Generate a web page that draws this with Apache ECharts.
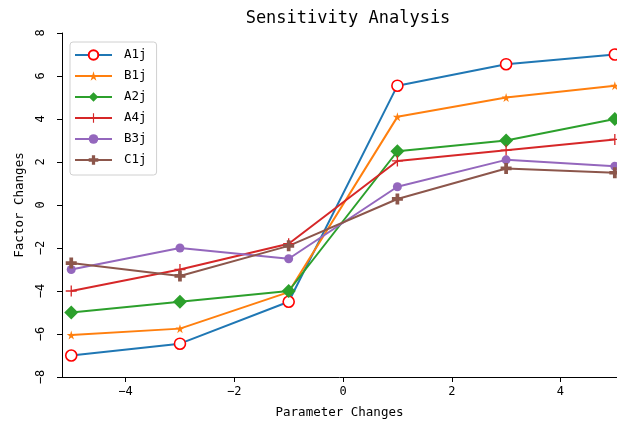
<!DOCTYPE html>
<html>
<head>
<meta charset="utf-8">
<script src="https://cdn.jsdelivr.net/npm/echarts@6/dist/echarts.min.js"></script>
<style>
html,body{margin:0;padding:0;background:#fff;}
#chart{width:617px;height:425px;}
</style>
</head>
<body>
<div id="chart"></div>
<script>
var xValues = [-5, -3, -1, 1, 3, 5];
var seriesNames = ['A1j', 'B1j', 'A2j', 'A4j', 'B3j', 'C1j'];
var A1j = [-7, -6.45, -4.5, 5.55, 6.55, 7];
var B1j = [-6.05, -5.75, -4.05, 4.1, 5.0, 5.55];
var A2j = [-5, -4.5, -4, 2.5, 3, 4];
var A4j = [-4, -3, -1.8, 2.05, 2.55, 3.05];
var B3j = [-3, -2, -2.5, 0.85, 2.1, 1.8];
var C1j = [-2.7, -3.3, -1.9, 0.28, 1.7, 1.5];
var xTicks = [-4, -2, 0, 2, 4];
var yTicks = [-8, -6, -4, -2, 0, 2, 4, 6, 8];

var FONT = 'DejaVu Sans Mono';
var STAR = 'path://M50,0 L61,35 L98,35 L68,57 L79,91 L50,70 L21,91 L32,57 L2,35 L39,35 Z';
var PLUSP = 'path://M33,0 H67 V33 H100 V67 H67 V100 H33 V67 H0 V33 H33 Z';
var PLUS = 'path://M44,0 H56 V44 H100 V56 H56 V100 H44 V56 H0 V44 H44 Z';

function pairs(vals){ return xValues.map(function(x,i){ return [x, vals[i]]; }); }
function fmt(v){ return String(v).replace('-', '\u2212'); }

var styles = [
  {data: A1j, color: '#1f77b4', symbol: 'circle', size: 11, item: {color: '#ffffff', borderColor: '#ff0000', borderWidth: 1.6}},
  {data: B1j, color: '#ff7f0e', symbol: STAR, size: 9, item: {color: '#ff7f0e'}},
  {data: A2j, color: '#2ca02c', symbol: 'diamond', size: 14, item: {color: '#2ca02c'}},
  {data: A4j, color: '#d62728', symbol: PLUS, size: 11, item: {color: '#d62728'}},
  {data: B3j, color: '#9467bd', symbol: 'circle', size: 9, item: {color: '#9467bd'}},
  {data: C1j, color: '#8c564b', symbol: PLUSP, size: 11, item: {color: '#8c564b'}}
];

var series = styles.map(function(s, i){
  return {
    name: seriesNames[i],
    type: 'line',
    data: pairs(s.data),
    symbol: s.symbol,
    symbolSize: s.size,
    showAllSymbol: true,
    lineStyle: {color: s.color, width: 2},
    itemStyle: s.item,
    emphasis: {disabled: true},
    animation: false
  };
});

var chart = echarts.init(document.getElementById('chart'), null, {renderer: 'canvas'});
chart.setOption({
  backgroundColor: '#ffffff',
  animation: false,
  title: {
    text: 'Sensitivity Analysis',
    left: 343, top: 5, textAlign: 'center',
    textStyle: {fontFamily: FONT, fontSize: 17, fontWeight: 'normal', color: '#000'}
  },
  grid: {left: 62, right: 0, top: 33, bottom: 48, containLabel: false},
  legend: {
    orient: 'vertical',
    left: 70, top: 42,
    padding: [6, 10, 8, 4],
    itemWidth: 37, itemHeight: 12, itemGap: 7,
    borderColor: '#d0d0d0', borderWidth: 1, borderRadius: 3,
    backgroundColor: '#ffffff',
    textStyle: {fontFamily: FONT, fontSize: 12.5, color: '#000', padding: [0, 0, 0, 7], lineHeight: 14},
    data: seriesNames
  },
  xAxis: {
    type: 'value',
    min: -5.17, max: 5.04,
    name: 'Parameter Changes',
    nameLocation: 'middle', nameGap: 29,
    nameTextStyle: {fontFamily: FONT, fontSize: 12.5, color: '#000'},
    axisLine: {show: true, onZero: false, lineStyle: {color: '#000', width: 1}},
    axisTick: {show: true, length: 5, customValues: xTicks, lineStyle: {color: '#000'}},
    axisLabel: {customValues: xTicks, margin: 9, fontFamily: FONT, fontSize: 12, color: '#000', formatter: fmt},
    splitLine: {show: false}
  },
  yAxis: {
    type: 'value',
    min: -8, max: 8, interval: 2,
    name: 'Factor Changes',
    nameLocation: 'middle', nameGap: 36,
    nameTextStyle: {fontFamily: FONT, fontSize: 12.5, color: '#000'},
    axisLine: {show: true, onZero: false, lineStyle: {color: '#000', width: 1}},
    axisTick: {show: true, length: 5, lineStyle: {color: '#000'}},
    axisLabel: {rotate: 90, margin: 15, fontFamily: FONT, fontSize: 12, color: '#000', formatter: fmt,
      showMinLabel: true, showMaxLabel: true},
    splitLine: {show: false}
  },
  series: series
});
</script>
</body>
</html>
